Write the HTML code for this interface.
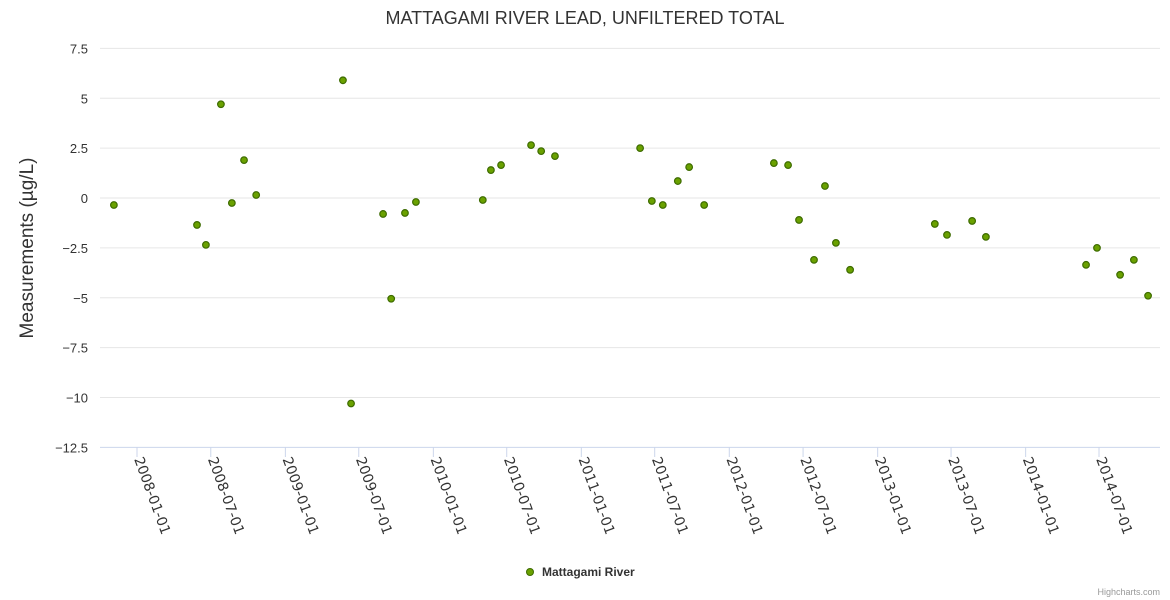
<!DOCTYPE html>
<html><head><meta charset="utf-8"><style>
body{margin:0;background:#fff;}
svg{font-family:"Liberation Sans",sans-serif;display:block;}
</style></head><body>
<svg id="chart" width="1170" height="600">
<text x="585" y="24" text-anchor="middle" font-size="18" fill="#333">MATTAGAMI RIVER LEAD, UNFILTERED TOTAL</text>
<text transform="translate(33,248) rotate(-90)" text-anchor="middle" font-size="19" fill="#333">Measurements (µg/L)</text>
<g id="grid"></g><g id="xaxis"></g><g id="pts"></g>
<g>
<circle cx="530" cy="572" r="3.5" fill="#6aa100" stroke="#3d6b00" stroke-width="1"/>
<text x="542" y="576" font-size="12" font-weight="bold" fill="#333">Mattagami River</text></g>
<text x="1160" y="595" text-anchor="end" font-size="9" fill="#999">Highcharts.com</text>
</svg>
<script>
const dates=["2007-11-05","2008-05-28","2008-06-19","2008-07-26","2008-08-22","2008-09-21","2008-10-21","2009-05-23","2009-06-12","2009-08-30","2009-09-19","2009-10-23","2009-11-19","2010-05-03","2010-05-23","2010-06-17","2010-08-30","2010-09-24","2010-10-28","2011-05-26","2011-06-24","2011-07-21","2011-08-27","2011-09-24","2011-10-31","2012-04-20","2012-05-25","2012-06-21","2012-07-28","2012-08-24","2012-09-20","2012-10-25","2013-05-22","2013-06-21","2013-08-22","2013-09-25","2014-05-30","2014-06-26","2014-08-22","2014-09-25","2014-10-30"];
const values=[-0.35,-1.35,-2.35,4.7,-0.25,1.9,0.15,5.9,-10.3,-0.8,-5.05,-0.75,-0.2,-0.1,1.4,1.65,2.65,2.35,2.1,2.5,-0.15,-0.35,0.85,1.55,-0.35,1.75,1.65,-1.1,-3.1,0.6,-2.25,-3.6,-1.3,-1.85,-1.15,-1.95,-3.35,-2.5,-3.85,-3.1,-4.9];
const yTicks=[7.5,5,2.5,0,-2.5,-5,-7.5,-10,-12.5];
const yLabels=["7.5","5","2.5","0","−2.5","−5","−7.5","−10","−12.5"];
const xTicks=["2008-01-01","2008-07-01","2009-01-01","2009-07-01","2010-01-01","2010-07-01","2011-01-01","2011-07-01","2012-01-01","2012-07-01","2013-01-01","2013-07-01","2014-01-01","2014-07-01"];
const NS="http://www.w3.org/2000/svg";
const t0=Date.parse("2008-01-01"),DAY=86400000;
function xs(d){return 137+(Date.parse(d)-t0)/DAY*0.4054;}
function ys(v){return 198-v*19.95;}
const grid=document.getElementById('grid'),xa=document.getElementById('xaxis'),pts=document.getElementById('pts');
function mk(tag,at,par){const e=document.createElementNS(NS,tag);for(const k in at)e.setAttribute(k,at[k]);par.appendChild(e);return e;}
yTicks.forEach((v,i)=>{
 const y=ys(v);
 const l=mk('line',{x1:100,x2:1160,y1:y,y2:y,stroke:i==yTicks.length-1?'#ccd6eb':'#e6e6e6'},grid);
 
 
 const t=mk('text',{x:88,y:y+5,'text-anchor':'end','font-size':13,fill:'#333'},grid);
 t.textContent=yLabels[i];
 
 
});
xTicks.forEach(d=>{
 const x=xs(d);
 const l=mk('line',{x1:x,x2:x,y1:447,y2:457,stroke:'#ccd6eb'},xa);
 
 
 const t=mk('text',{transform:`translate(${x-3},459) rotate(70)`,'font-size':14,'font-family':'"DejaVu Sans",sans-serif',fill:'#333'},xa);
 t.textContent=d;
 
 
});
dates.forEach((d,i)=>{
 const c=mk('circle',{cx:xs(d),cy:ys(values[i]),r:3.3,fill:'#6aa100',stroke:'#3d6b00','stroke-width':1.2},pts);
 
 
});
</script>
</body></html>
